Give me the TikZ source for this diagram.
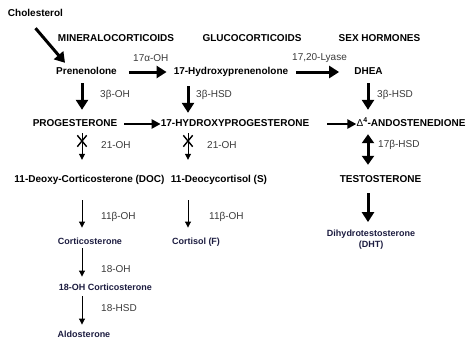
\documentclass[tikz,border=0pt]{standalone}
\usepackage{fontspec}
\setmainfont{Liberation Sans}
\usetikzlibrary{arrows.meta,shapes.misc}
\definecolor{navy}{HTML}{1C1C40}
\definecolor{labgray}{HTML}{3A3A3A}
\begin{document}
\begin{tikzpicture}[x=1pt,y=-1pt,
  cmp/.style={font=\bfseries\fontsize{10}{12}\selectfont, inner sep=0pt, text height=7pt, text depth=2pt},
  sub/.style={font=\bfseries\fontsize{9}{11}\selectfont, text=navy, inner sep=0pt, text height=6.5pt, text depth=2pt},
  lab/.style={font=\fontsize{10}{12}\selectfont, text=labgray, anchor=west, inner sep=0pt},
  bigarr/.style={line width=3pt, -{Triangle[length=10pt,width=12pt]}},
  midarr/.style={line width=2.5pt, -{Triangle[length=9pt,width=9pt]}},
  thinarr/.style={line width=1pt, -{Triangle[length=6pt,width=6pt]}},
  dblarr/.style={line width=3pt, {Triangle[length=9pt,width=12pt]}-{Triangle[length=9pt,width=12pt]}},
  xmark/.style={draw, cross out, line width=1.4pt, minimum width=8pt, minimum height=10pt, inner sep=0pt}
]
\useasboundingbox (0,0) rectangle (474,346);
\coordinate (c1) at (82,0);
\coordinate (c2) at (188,0);
\coordinate (c3) at (368,0);

% headers
\node[cmp] (chol) at (35.5,14) {Cholesterol};
\node[cmp] (hmin) at (116,39) {MINERALOCORTICOIDS};
\node[cmp] (hglu) at (252,39) {GLUCOCORTICOIDS};
\node[cmp] (hsex) at (379.5,39) {SEX HORMONES};

% row 1
\node[cmp] (pren) at (86.5,72) {Prenenolone};
\node[cmp] (hyp) at (231,72) {17-Hydroxyprenenolone};
\node[cmp] (dhea) at (368.5,72) {DHEA};
\node[lab] (l17a) at (133,58) {17α-OH};
\node[lab] (llya) at (292,58) {17,20-Lyase};
\node[lab] (l3b1) at (100,95) {3β-OH};
\node[lab] (l3b2) at (196,95) {3β-HSD};
\node[lab] (l3b3) at (377,95) {3β-HSD};

% row 2
\node[cmp] (prog) at (75,124) {PROGESTERONE};
\node[cmp] (ohp) at (235,124) {17-HYDROXYPROGESTERONE};
\node[cmp] (andro) at (411,124) {{\mdseries Δ}\textsuperscript{4}-ANDOSTENEDIONE};
\node[lab] (l21a) at (101,145) {21-OH};
\node[lab] (l21b) at (207,145) {21-OH};
\node[lab] (l17b) at (378,145) {17β-HSD};
\node[xmark] (x1) at (82,141) {};
\node[xmark] (x2) at (188,141) {};

% row 3
\node[cmp] (doc) at (89.5,180) {11-Deoxy-Corticosterone (DOC)};
\node[cmp] (s) at (219,180) {11-Deocycortisol (S)};
\node[cmp] (testo) at (380.5,180) {TESTOSTERONE};
\node[lab] (l11a) at (101,217) {11β-OH};
\node[lab] (l11b) at (209,217) {11β-OH};

% row 4
\node[sub] (cort) at (90,242) {Corticosterone};
\node[sub] (cortf) at (196,242) {Cortisol (F)};
\node[sub, align=center, text height=, text depth=] (dht) at (371,240) {Dihydrotestosterone\\(DHT)};
\node[lab] (l18a) at (101,269) {18-OH};
\node[sub] (oh18) at (105.5,288) {18-OH Corticosterone};
\node[lab] (l18b) at (101,308) {18-HSD};
\node[sub] (aldo) at (84,335) {Aldosterone};

% arrows
\draw[bigarr] ([yshift=-9.5pt]chol.south) -- ([xshift=9pt,yshift=4.5pt]pren.north west);
\draw[bigarr, shorten <=12pt, shorten >=7pt] (pren.east) -- (hyp.west);
\draw[bigarr, shorten <=8pt, shorten >=15pt] (hyp.east) -- (dhea.west);
\draw[bigarr, shorten <=6.5pt, shorten >=9.5pt] (pren.south -| c1) -- (prog.north -| c1);
\draw[bigarr, shorten <=9.5pt, shorten >=6.5pt] (hyp.south -| c2) -- (ohp.north -| c2);
\draw[bigarr, shorten <=6.5pt, shorten >=9.5pt] (dhea.south -| c3) -- (andro.north -| c3);
\draw[midarr, shorten <=7pt] (prog.east) -- (ohp.west);
\draw[midarr, shorten <=18pt] (ohp.east) -- (andro.west);
\draw[thinarr, shorten <=4.5pt, shorten >=15.5pt] (prog.south -| c1) -- (doc.north -| c1);
\draw[thinarr, shorten <=4.5pt, shorten >=15.5pt] (ohp.south -| c2) -- (s.north -| c2);
\draw[dblarr, shorten <=5.5pt, shorten >=10.5pt] (andro.south -| c3) -- (testo.north -| c3);
\draw[thinarr, shorten <=15.5pt, shorten >=10pt] (doc.south -| c1) -- (cort.north -| c1);
\draw[thinarr, shorten <=15.5pt, shorten >=10pt] (s.south -| c2) -- (cortf.north -| c2);
\draw[bigarr, shorten <=8.5pt, shorten >=8pt] (testo.south -| c3) -- (dht.north -| c3);
\draw[thinarr, shorten <=2pt, shorten >=7pt] (cort.south -| c1) -- (oh18.north -| c1);
\draw[thinarr, shorten <=4pt, shorten >=6pt] (oh18.south -| c1) -- (aldo.north -| c1);
\end{tikzpicture}
\end{document}
